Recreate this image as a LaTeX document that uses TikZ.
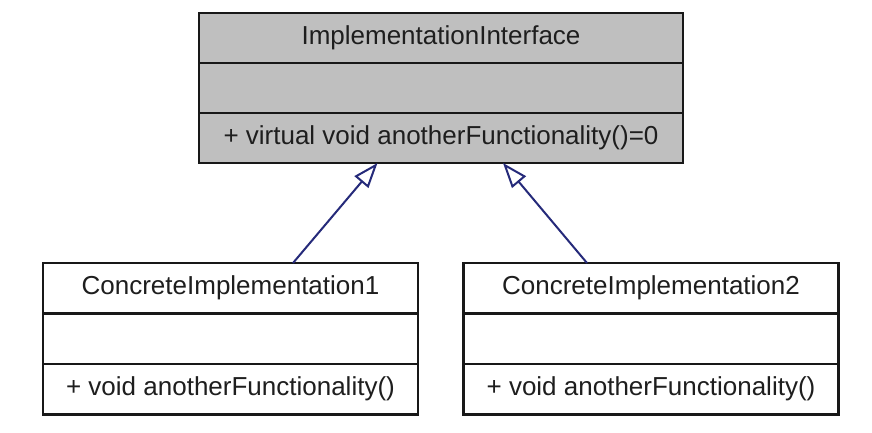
\documentclass[tikz,border=0pt]{standalone}
\usepackage{fontspec}
\setmainfont{Liberation Sans}
\usetikzlibrary{arrows.meta}
\definecolor{ifill}{HTML}{BFBFBF}
\definecolor{inh}{HTML}{252A7A}
\definecolor{txt}{HTML}{1E1E1E}
\definecolor{bord}{HTML}{181818}
\begin{document}
\begin{tikzpicture}[x=1pt,y=-1pt,
  row/.style={draw=bord, line width=2.2pt, rectangle, inner sep=0pt, outer sep=0pt,
    text=txt, font=\fontsize{26}{30}\selectfont, anchor=north},
  toprow/.style={row, fill=ifill, minimum width=484pt, minimum height=50pt},
  botrow/.style={row, fill=white, minimum width=375pt, minimum height=50.5pt},
  inherit/.style={draw=inh, line width=2pt, -{Triangle[open, length=25pt, width=18pt, fill=white]}}
]
\useasboundingbox[fill=white] (0,0) rectangle (872,432);
% interface
\node[toprow] (it) at (441,13) {ImplementationInterface};
\node[toprow] (ia) at (it.south) {};
\node[toprow] (io) at (ia.south) {+ virtual void anotherFunctionality()=0};
% concrete 1
\node[botrow] (c1t) at (230.5,263) {ConcreteImplementation1};
\node[botrow] (c1a) at (c1t.south) {};
\node[botrow] (c1o) at (c1a.south) {+ void anotherFunctionality()};
% concrete 2
\node[botrow] (c2t) at (651,263) {ConcreteImplementation2};
\node[botrow] (c2a) at (c2t.south) {};
\node[botrow] (c2o) at (c2a.south) {+ void anotherFunctionality()};
% inheritance
\draw[inherit] ([xshift=62.5pt]c1t.north) -- ([xshift=-63.5pt]io.south);
\draw[inherit] ([xshift=-64pt]c2t.north) -- ([xshift=62pt]io.south);
\end{tikzpicture}
\end{document}
